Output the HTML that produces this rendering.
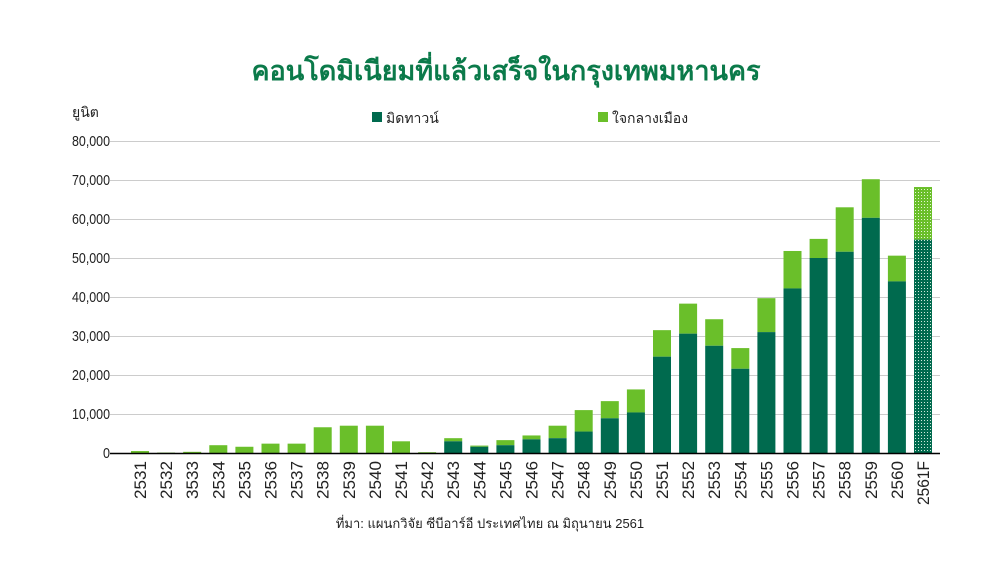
<!DOCTYPE html>
<html><head><meta charset="utf-8"><style>
html,body{margin:0;padding:0;background:#fff;width:1000px;height:567px;overflow:hidden}
text{font-family:"Liberation Sans","Noto Sans CJK SC",sans-serif}
</style></head><body>
<svg width="1000" height="567" viewBox="0 0 1000 567" xmlns="http://www.w3.org/2000/svg">
<defs>
<pattern id="pd" width="3" height="3" patternUnits="userSpaceOnUse"><rect width="3" height="3" fill="#006a4e"/><rect width="1" height="1" fill="#cfe8dc"/></pattern>
<pattern id="pl" width="3" height="3" patternUnits="userSpaceOnUse"><rect width="3" height="3" fill="#6abf2a"/><rect width="1" height="1" fill="#e4f5d5"/></pattern>
</defs>
<text x="506" y="80" text-anchor="middle" font-size="27" font-weight="bold" fill="#0b7a4a">คอนโดมิเนียมที่แล้วเสร็จในกรุงเทพมหานคร</text>
<text x="72" y="117" font-size="14" fill="#222">ยูนิต</text>
<rect x="372" y="112" width="10" height="10" fill="#006a4e"/>
<text x="386" y="123" font-size="14" fill="#222">มิดทาวน์</text>
<rect x="598" y="112" width="10" height="10" fill="#6abf2a"/>
<text x="612" y="123" font-size="14" fill="#222">ใจกลางเมือง</text>
<g id="grid" stroke="#cccccc" stroke-width="1"></g>
<g id="ylab" font-size="15" fill="#222" text-anchor="end"></g>
<g id="bars"></g>
<line x1="110" y1="453.5" x2="940" y2="453.5" stroke="#000" stroke-width="1.5"/>
<g id="xlab" font-size="17" fill="#222"></g>
<text x="490" y="528" text-anchor="middle" font-size="13" fill="#222">ที่มา: แผนกวิจัย ซีบีอาร์อี ประเทศไทย ณ มิถุนายน 2561</text>
</svg>
<script>
var NS="http://www.w3.org/2000/svg";
function el(t,a,p,txt){var e=document.createElementNS(NS,t);for(var k in a)e.setAttribute(k,a[k]);if(txt)e.textContent=txt;document.getElementById(p).appendChild(e);}
for(var i=1;i<=8;i++){var y=453-i*39;el('line',{x1:110,x2:940,y1:y+.5,y2:y+.5},'grid');}
for(var i=0;i<=8;i++){var y=453-i*39;var t=i==0?'0':(i*10)+',000';var a={x:110,y:y+5};if(i>0){a.textLength=i==8||i>0?38:38;a.lengthAdjust='spacingAndGlyphs';}else{a.textLength=7;a.lengthAdjust='spacingAndGlyphs';}el('text',a,'ylab',t);}
var L=['2531','2532','3533','2534','2535','2536','2537','2538','2539','2540','2541','2542','2543','2544','2545','2546','2547','2548','2549','2550','2551','2552','2553','2554','2555','2556','2557','2558','2559','2560','2561F'];
var T=[500,100,300,2000,1600,2400,2400,6600,7000,7000,3000,200,3800,1900,3300,4500,7000,11000,13300,16300,31500,38300,34300,26900,39700,51800,54900,63000,70200,50600,68200];
var D=[0,0,0,0,0,0,0,0,0,0,0,0,3000,1600,2000,3500,3800,5500,8900,10400,24700,30600,27500,21600,31000,42200,50000,51600,60300,44000,54700];
var s=3.9/1000;
for(var i=0;i<31;i++){var x=131+26.1*i,f=i==30;
var yd=453-D[i]*s,yt=453-T[i]*s;
el('rect',{x:x,y:yt,width:18,height:yd-yt,fill:f?'url(#pl)':'#6abf2a'},'bars');
if(D[i])el('rect',{x:x,y:yd,width:18,height:453-yd,fill:f?'url(#pd)':'#006a4e'},'bars');
var cx=x+9+6;
el('text',{x:cx,y:461,transform:'rotate(-90 '+cx+' 461)','text-anchor':'end',textLength:f?44:38,lengthAdjust:'spacingAndGlyphs'},'xlab',L[i]);}
</script>
</body></html>
